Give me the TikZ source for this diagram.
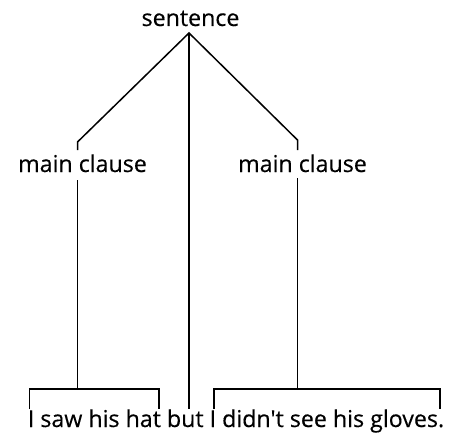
\documentclass[tikz,border=0pt]{standalone}
\usepackage{fontspec}
\newfontfamily\lblfont{Open Sans}[FakeBold=0.4]
\begin{document}
\begin{tikzpicture}[x=1pt,y=-1pt,
  lbl/.style={inner sep=0pt,anchor=base,font=\lblfont\fontsize{23.2}{28}\selectfont},
  branch/.style={line width=1.5pt,line join=miter}]
\useasboundingbox (0,0) rectangle (449,441);
% labels
\node[lbl] (s) at (190.5,26) {sentence};
\node[lbl] (mcl) at (82.5,172) {main clause};
\node[lbl] (mcr) at (302.5,172) {main clause};
\node[lbl] (txt) at (236,427) {I saw his hat but I didn't see his gloves.};
% points
\coordinate (apex) at (189,33);
\coordinate (lc) at (77.5,142);
\coordinate (lce) at (77.5,150);
\coordinate (ls) at (77.5,180);
\coordinate (lj) at (77.5,389);
\coordinate (rc) at (297.5,140);
\coordinate (rce) at (297.5,150);
\coordinate (rs) at (297.5,178);
\coordinate (rj) at (297.5,389);
\coordinate (cb) at (189,409);
\coordinate (lb1) at (29.5,409);
\coordinate (lb2) at (29.5,389);
\coordinate (lb3) at (159,389);
\coordinate (lb4) at (159,409);
\coordinate (rb1) at (214,409);
\coordinate (rb2) at (214,389);
\coordinate (rb3) at (440,389);
\coordinate (rb4) at (440,409);
% connectors
\draw[branch] (lce) -- (lc) -- (apex) -- (rc) -- (rce);
\draw[branch] (apex) -- (cb);
\draw[branch] (ls) -- (lj);
\draw[branch] (rs) -- (rj);
\draw[branch] (lb1) -- (lb2) -- (lb3) -- (lb4);
\draw[branch] (rb1) -- (rb2) -- (rb3) -- (rb4);
\end{tikzpicture}
\end{document}
